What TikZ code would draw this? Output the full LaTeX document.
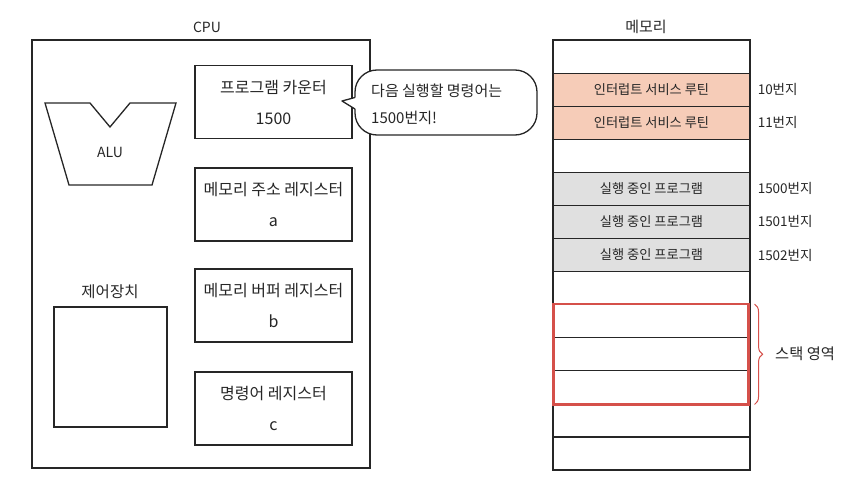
\documentclass[tikz,border=0pt]{standalone}
\usepackage{fontspec}
\setmainfont{Noto Sans CJK KR}
\usetikzlibrary{decorations.pathreplacing}
\definecolor{ink}{HTML}{262626}
\definecolor{isr}{HTML}{F6CCB8}
\definecolor{prog}{HTML}{E0E0E0}
\definecolor{stackred}{HTML}{D5504A}
\tikzset{
  outline/.style={draw=ink, line width=1.3pt},
  regbox/.style={outline, minimum width=157pt, minimum height=73pt, align=center,
    font=\fontsize{16}{31}\selectfont, text=ink, inner sep=0pt},
  cell/.style={outline, line width=1.1pt, minimum width=197pt, minimum height=33.08pt,
    inner sep=0pt, font=\fontsize{13.2}{14}\selectfont, text=ink},
  addr/.style={anchor=west, font=\fontsize{13.5}{14}\selectfont, text=ink, inner sep=0pt},
  title/.style={font=\fontsize{14}{16}\selectfont, text=ink},
}
\begin{document}
\begin{tikzpicture}[x=1pt, y=-1pt]
\useasboundingbox (0,0) rectangle (857,500);
% CPU
\node[title] (cpulbl) at (207,27) {CPU};
\node[outline, minimum width=338pt, minimum height=428pt, inner sep=0pt] (cpu) at (201,254) {};
\node[regbox] (pc)  at (273.5,102) {프로그램 카운터\\1500};
\node[regbox] (mar) at (273.5,204.5) {메모리 주소 레지스터\\a};
\node[regbox] (mbr) at (273.5,305.5) {메모리 버퍼 레지스터\\b};
\node[regbox] (ir)  at (273.5,408.5) {명령어 레지스터\\c};
% ALU
\draw[outline, line join=miter] (45,103) -- (90,103) -- (110,127) -- (130,103) -- (176,103) -- (152,185) -- (69,185) -- cycle;
\node[font=\fontsize{14}{16}\selectfont, text=ink] (alu) at (110,152) {ALU};
% control unit
\node[font=\fontsize{15.5}{18}\selectfont, text=ink] (culbl) at (110,292) {제어장치};
\node[outline, minimum width=113pt, minimum height=120pt, inner sep=0pt] (cu) at (110.5,367) {};
% speech bubble
\node[outline, fill=white, rounded corners=22pt, minimum width=182pt, minimum height=65pt,
  inner sep=0pt] (bubble) at (446,102.5) {};
\coordinate (tip) at (342,101);
\fill[white] ([xshift=1.5pt,yshift=-6.5pt]bubble.west) -- (tip) -- ([xshift=1.5pt,yshift=5pt]bubble.west) -- cycle;
\draw[outline, line join=round] ([xshift=0.6pt,yshift=-6.5pt]bubble.west) -- (tip) -- ([xshift=0.6pt,yshift=5pt]bubble.west);
\node[anchor=west, align=left, font=\fontsize{15}{27}\selectfont, text=ink, inner sep=0pt] (btext) at (371,104) {다음 실행할 명령어는\\1500번지!};
% memory
\node[font=\fontsize{15}{18}\selectfont, text=ink] (memlbl) at (646,27) {메모리};
\foreach \i/\f/\t in {0/white/, 1/isr/인터럽트 서비스 루틴, 2/isr/인터럽트 서비스 루틴, 3/white/,
  4/prog/실행 중인 프로그램, 5/prog/실행 중인 프로그램, 6/prog/실행 중인 프로그램,
  7/white/, 8/white/, 9/white/, 10/white/, 11/white/, 12/white/}
  \node[cell, fill=\f] (m\i) at (651.5, {56.54+33.08*\i}) {\t};
\draw[outline, line width=1.4pt] (m0.north west) rectangle (m12.south east);
\node[addr] (a10) at ([xshift=7pt]m1.east) {10번지};
\node[addr] (a11) at ([xshift=7pt]m2.east) {11번지};
\node[addr] (a1500) at ([xshift=7pt]m4.east) {1500번지};
\node[addr] (a1501) at ([xshift=7pt]m5.east) {1501번지};
\node[addr] (a1502) at ([xshift=7pt]m6.east) {1502번지};
\draw[draw=stackred, line width=2.2pt] ([xshift=1pt]m8.north west) rectangle ([xshift=-2pt]m10.south east);
\draw[draw=stackred, line width=1pt, decorate, decoration={brace, amplitude=8pt}]
  ([xshift=4pt]m8.north east) -- ([xshift=4pt]m10.south east) coordinate[pos=0.5] (bmid);
\node[anchor=west, font=\fontsize{15.3}{18}\selectfont, text=ink, inner sep=0pt] (stk) at (775,354) {스택 영역};
\end{tikzpicture}
\end{document}
